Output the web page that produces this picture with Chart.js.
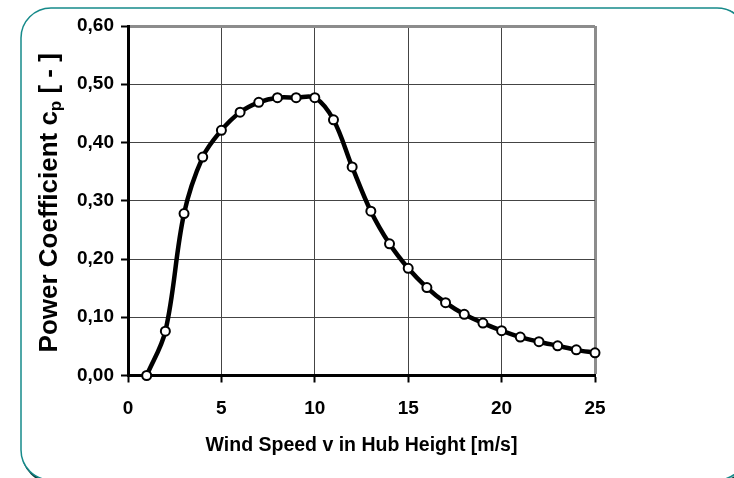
<!doctype html>
<html>

<head>
    <title>Power Coefficient Chart</title>
    <script src="https://cdn.jsdelivr.net/npm/chart.js@4.4.1/dist/chart.umd.min.js"></script>
    <style>
    body {
        margin: 0;
        background: #fff;
    }
    canvas {
        display: block;
    }
    </style>
</head>

<body>
    <canvas id="canvas" width="734" height="478"></canvas>
    <script>
    // wind speed [m/s] and power coefficient cp [-]
    var windSpeed = [1, 2, 3, 4, 5, 6, 7, 8, 9, 10, 11, 12, 13, 14, 15, 16, 17, 18, 19, 20, 21, 22, 23, 24, 25];
    var powerCoeff = [0.000, 0.076, 0.278, 0.375, 0.421, 0.452, 0.469, 0.477, 0.477, 0.477, 0.439, 0.358, 0.282,
        0.226, 0.184, 0.151, 0.125, 0.105, 0.090, 0.077, 0.066, 0.058, 0.051, 0.044, 0.039];
    var xTitle = 'Wind Speed v in Hub Height [m/s]';
    var yTitle = ['Power Coefficient c', 'p', ' [ - ]'];

    var FONT = '"Liberation Sans", Arial, sans-serif';

    var points = windSpeed.map(function(v, i) {
        return {x: v, y: powerCoeff[i]};
    });

    // rounded teal frame behind the whole chart
    var framePlugin = {
        id: 'frame',
        beforeDraw: function(chart) {
            var ctx = chart.ctx;
            ctx.save();
            ctx.fillStyle = '#fff';
            ctx.fillRect(0, 0, chart.width, chart.height);
            ctx.beginPath();
            ctx.roundRect(23, 10, 726, 472, 30);
            ctx.strokeStyle = '#0f3f3f';
            ctx.lineWidth = 3;
            ctx.stroke();
            ctx.beginPath();
            ctx.roundRect(21, 8, 726, 472, 30);
            ctx.fillStyle = '#fff';
            ctx.fill();
            ctx.strokeStyle = '#168a8a';
            ctx.lineWidth = 1.5;
            ctx.stroke();
            ctx.restore();
        }
    };

    // y axis title with a real subscript
    var yTitlePlugin = {
        id: 'yTitle',
        afterDraw: function(chart) {
            var ctx = chart.ctx;
            var area = chart.chartArea;
            var big = 'bold 26px ' + FONT;
            var small = 'bold 17px ' + FONT;
            ctx.save();
            ctx.font = big;
            var w1 = ctx.measureText(yTitle[0]).width;
            var w3 = ctx.measureText(yTitle[2]).width;
            ctx.font = small;
            var w2 = ctx.measureText(yTitle[1]).width;
            var total = w1 + w2 + w3;
            ctx.translate(57, (area.top + area.bottom) / 2 + 2);
            ctx.rotate(-Math.PI / 2);
            ctx.fillStyle = '#000';
            ctx.textBaseline = 'alphabetic';
            ctx.textAlign = 'left';
            var x = -total / 2;
            ctx.font = big;
            ctx.fillText(yTitle[0], x, 0);
            ctx.font = small;
            ctx.fillText(yTitle[1], x + w1, 4);
            ctx.font = big;
            ctx.fillText(yTitle[2], x + w1 + w2, 0);
            ctx.restore();
        }
    };

    var isEdge = function(value, edge) {
        return Math.abs(value - edge) < 1e-9;
    };

    var config = {
        type: 'line',
        data: {
            datasets: [{
                data: points,
                borderColor: '#000',
                borderWidth: 4.5,
                tension: 0.35,
                pointRadius: 4.5,
                pointBorderWidth: 2,
                pointBackgroundColor: '#fff',
                pointBorderColor: '#000',
                clip: false
            }]
        },
        options: {
            responsive: false,
            animation: false,
            events: [],
            layout: {
                padding: {left: 0, right: 139, top: 26, bottom: 0}
            },
            plugins: {
                legend: {display: false},
                tooltip: {enabled: false}
            },
            scales: {
                x: {
                    type: 'linear',
                    min: 0,
                    max: 25,
                    afterFit: function(scale) {
                        scale.height = 102.5;
                    },
                    ticks: {
                        stepSize: 5,
                        color: '#000',
                        padding: 15,
                        maxRotation: 0,
                        font: {family: FONT, size: 19, weight: 'bold'}
                    },
                    grid: {
                        color: function(ctx) {
                            return ctx.tick && isEdge(ctx.tick.value, 25) ? '#8c8c8c' : '#444';
                        },
                        lineWidth: function(ctx) {
                            return ctx.tick && isEdge(ctx.tick.value, 25) ? 3 : 1;
                        },
                        tickColor: '#000',
                        tickLength: 7,
                        tickWidth: 2
                    },
                    border: {color: '#000', width: 3},
                    title: {
                        display: true,
                        text: xTitle,
                        color: '#000',
                        padding: {top: 0, bottom: 21},
                        font: {family: FONT, size: 19.5, weight: 'bold'}
                    }
                },
                y: {
                    min: 0,
                    max: 0.6,
                    afterFit: function(scale) {
                        scale.width = 128;
                    },
                    ticks: {
                        stepSize: 0.1,
                        color: '#000',
                        padding: 7,
                        font: {family: FONT, size: 19, weight: 'bold'},
                        callback: function(value) {
                            return value.toFixed(2).replace('.', ',');
                        }
                    },
                    grid: {
                        color: function(ctx) {
                            return ctx.tick && isEdge(ctx.tick.value, 0.6) ? '#8c8c8c' : '#444';
                        },
                        lineWidth: function(ctx) {
                            return ctx.tick && isEdge(ctx.tick.value, 0.6) ? 3 : 1;
                        },
                        tickColor: '#000',
                        tickLength: 7,
                        tickWidth: 2
                    },
                    border: {color: '#000', width: 3}
                }
            }
        },
        plugins: [framePlugin, yTitlePlugin]
    };

    window.onload = function() {
        window.myChart = new Chart(document.getElementById('canvas'), config);
    };
    </script>
</body>

</html>
